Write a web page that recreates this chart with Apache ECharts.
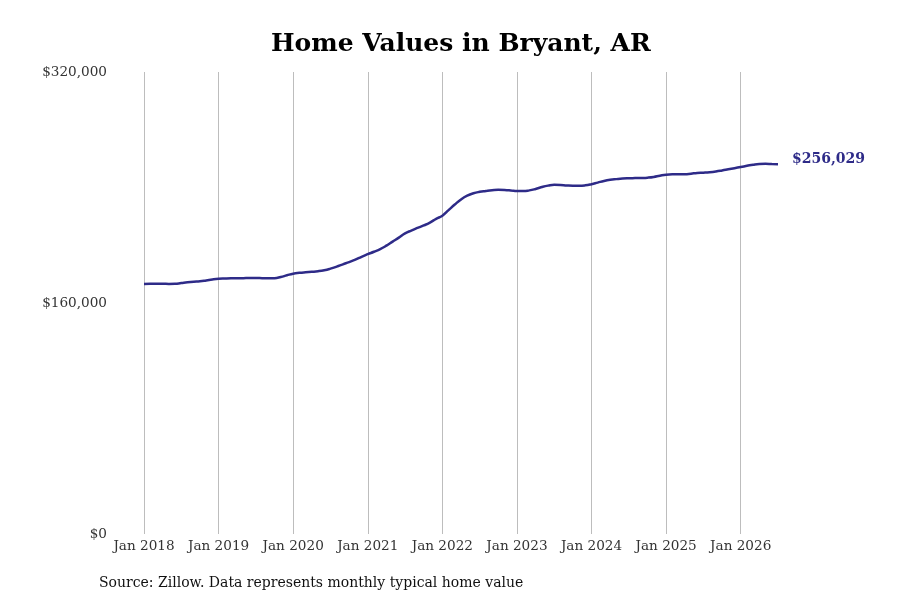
<!DOCTYPE html>
<html>
<head>
<meta charset="utf-8">
<script src="https://cdn.jsdelivr.net/npm/echarts@6/dist/echarts.min.js"></script>
<style>
html,body{margin:0;padding:0;background:#fff;}
#chart{width:900px;height:600px;}
</style>
</head>
<body>
<div id="chart"></div>
<script>
// Monthly typical home value, Jan 2018 .. Jul 2026
const startYear = 2018;
const monthNames = ["Jan","Feb","Mar","Apr","May","Jun","Jul","Aug","Sep","Oct","Nov","Dec"];
const homeValues = [
  173200,173300,173300,173300,173200,173300,173800,174300,174700,175000,175600,176300,
  176800,177000,177100,177100,177200,177300,177300,177200,177100,177200,178000,179200,
  180300,180900,181300,181600,182000,182700,183800,185200,186800,188300,190000,192000,
  193800,195500,197300,199700,202500,205300,208200,210200,212000,213700,215700,218300,
  220500,224300,228200,231700,234300,236000,237000,237600,238100,238400,238300,238000,
  237600,237500,238000,239000,240300,241300,241900,241800,241400,241200,241200,241500,
  242300,243400,244500,245300,245800,246200,246400,246500,246600,246800,247300,248200,
  248900,249100,249100,249200,249600,250100,250300,250600,251100,251800,252600,253400,
  254200,255000,255800,256300,256400,256200,256029
];
const yTicks = [0, 160000, 320000];
const titleText = "Home Values in Bryant, AR";
const sourceText = "Source: Zillow. Data represents monthly typical home value";

const categories = homeValues.map((v, i) => monthNames[i % 12] + " " + (startYear + Math.floor(i / 12)));
const fmtMoney = v => "$" + Math.round(v).toLocaleString("en-US");
const serif = "DejaVu Serif";

const chart = echarts.init(document.getElementById("chart"), null, {renderer: "canvas"});
chart.setOption({
  backgroundColor: "#ffffff",
  animation: false,
  title: {
    text: titleText,
    left: 266,
    top: 27,
    textStyle: {fontFamily: serif, fontSize: 25, fontWeight: "bold", color: "#000"}
  },
  grid: {left: 144, right: 122, top: 72, bottom: 66, containLabel: false},
  xAxis: {
    type: "category",
    data: categories,
    boundaryGap: false,
    axisLine: {show: false},
    axisTick: {show: false},
    axisLabel: {
      interval: 11,
      fontFamily: serif, fontSize: 13.6, color: "#333", margin: 5
    },
    splitLine: {show: true, interval: 11, lineStyle: {color: "#bdbdbd", width: 1}}
  },
  yAxis: {
    type: "value",
    min: yTicks[0],
    max: yTicks[yTicks.length - 1],
    interval: yTicks[1] - yTicks[0],
    axisLine: {show: false},
    axisTick: {show: false},
    splitLine: {show: false},
    axisLabel: {
      fontFamily: serif, fontSize: 13.6, color: "#333", margin: 37,
      padding: [4, 0, 0, 0],
      formatter: v => fmtMoney(v)
    }
  },
  series: [{
    type: "line",
    data: homeValues,
    smooth: true,
    symbol: "none",
    lineStyle: {color: "#2e2b88", width: 2.5},
    endLabel: {
      show: true,
      distance: 14,
      offset: [0, -5],
      formatter: p => fmtMoney(p.value),
      fontFamily: serif, fontSize: 14, fontWeight: "bold", color: "#2e2b88"
    }
  }],
  graphic: [{
    type: "text",
    left: 99,
    top: 576,
    style: {text: sourceText, font: "14px 'DejaVu Serif'", fill: "#111"}
  }]
});
</script>
</body>
</html>
